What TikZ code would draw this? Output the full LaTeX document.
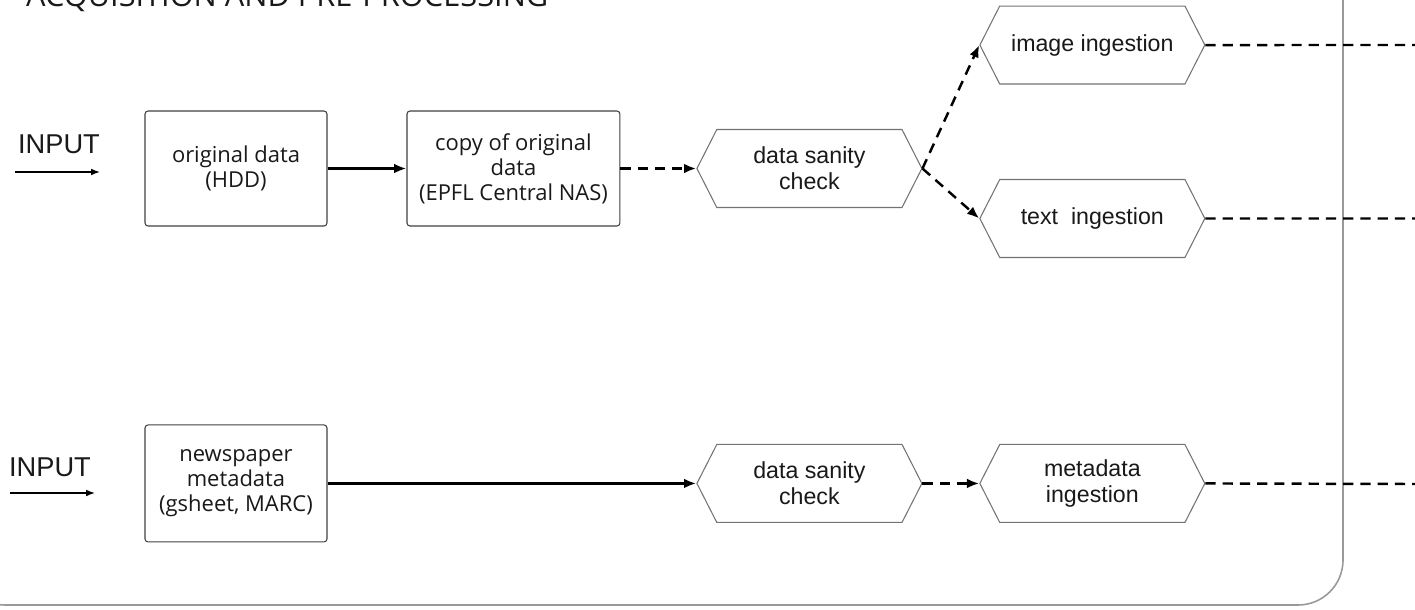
\documentclass[tikz,border=0pt]{standalone}
\usepackage{fontspec}
\setmainfont{Open Sans}
\newfontfamily\arialfont{Liberation Sans}
\usetikzlibrary{arrows.meta,
                  positioning,
                  shapes.symbols}

\begin{document}
\begin{tikzpicture}[x=0.02cm, y=-0.02cm, every node/.style={text=black!90}]
    \tikzset{
    block/.style= {draw=black!75, rectangle, rounded corners=0.06cm, align=center, minimum width=3.64cm, minimum height=2.3cm, font=\fontsize{12.5}{14.2}\selectfont, fill=white, line width=0.6pt},
    block1/.style= {block, minimum width=4.26cm},
    hexa/.style = {draw=black!55, shape=signal, signal to=west and east, signal pointer angle=126, minimum width=4.5cm, minimum height=1.56cm, align=center, inner sep=0pt, font=\arialfont\fontsize{13.2}{14.8}\selectfont, fill=white, line width=0.6pt},
    inlabel/.style = {font=\arialfont\fontsize{15.5}{18}\selectfont},
    line/.style = {draw, -{Latex[length=7pt, width=5.5pt]}, line width=1.4pt},
    dline/.style = {line, dash pattern=on 5.8pt off 4pt},
    inline/.style = {draw, -{Latex[length=5pt, width=3.8pt]}, line width=0.8pt}
}
\useasboundingbox (0,0) rectangle (1415,609);
\draw [black!40, line width=0.9pt, rounded corners=0.9cm] (-40,-80) rectangle (1343,605);
\node [anchor=base west, font=\fontsize{17.5}{20}\selectfont] (title) at (20,6) {ACQUISITION AND PRE-PROCESSING};

\node [block] (origdata) at (236,168.5) {original data\\(HDD)};
\node [block1, right of=origdata, node distance=5.55cm] (copydata) {copy of original\\data\\(EPFL Central NAS)};
\node [hexa, right of=copydata, node distance=5.92cm] (check1) {data sanity\\check};
\node [hexa, right of=check1, node distance=5.66cm, yshift=2.47cm] (imgingest) {image ingestion};
\node [hexa, right of=check1, node distance=5.66cm, yshift=-1cm] (txtingest) {text\ \ ingestion};

\node [block, below of=origdata, node distance=6.3cm, minimum height=2.34cm] (metadata) {newspaper\\metadata\\(gsheet, MARC)};
\node [hexa, below of=check1, node distance=6.3cm] (check2) {data sanity\\check};
\node [hexa, right of=check2, node distance=5.66cm] (metaingest) {metadata\\ingestion};

\node [inlabel] (input1) at (59,144) {INPUT};
\node [inlabel] (input2) at (50,467) {INPUT};
\coordinate (in1a) at (15,172);
\coordinate (in1b) at (100,172);
\coordinate (in2a) at (10,493);
\coordinate (in2b) at (95,493);
\coordinate (out1) at (1415,45);
\coordinate (out2) at (1415,218.5);
\coordinate (out3) at (1415,484);

\path [inline] (in1a) -- (in1b);
\path [inline] (in2a) -- (in2b);
\path [line] (origdata) -- (copydata);
\path [dline] (copydata) -- (check1.west);
\path [dline] (check1.east) -- (imgingest.west);
\path [dline] (check1.east) -- (txtingest.west);
\path [line] (metadata) -- (check2.west);
\path [dline] (check2.east) -- (metaingest.west);
\draw [line width=1.4pt, dash pattern=on 5.8pt off 4pt] (imgingest.east) -- (out1);
\draw [line width=1.4pt, dash pattern=on 5.8pt off 4pt] (txtingest.east) -- (out2);
\draw [line width=1.4pt, dash pattern=on 5.8pt off 4pt] (metaingest.east) -- (out3);

\end{tikzpicture}
\end{document}
